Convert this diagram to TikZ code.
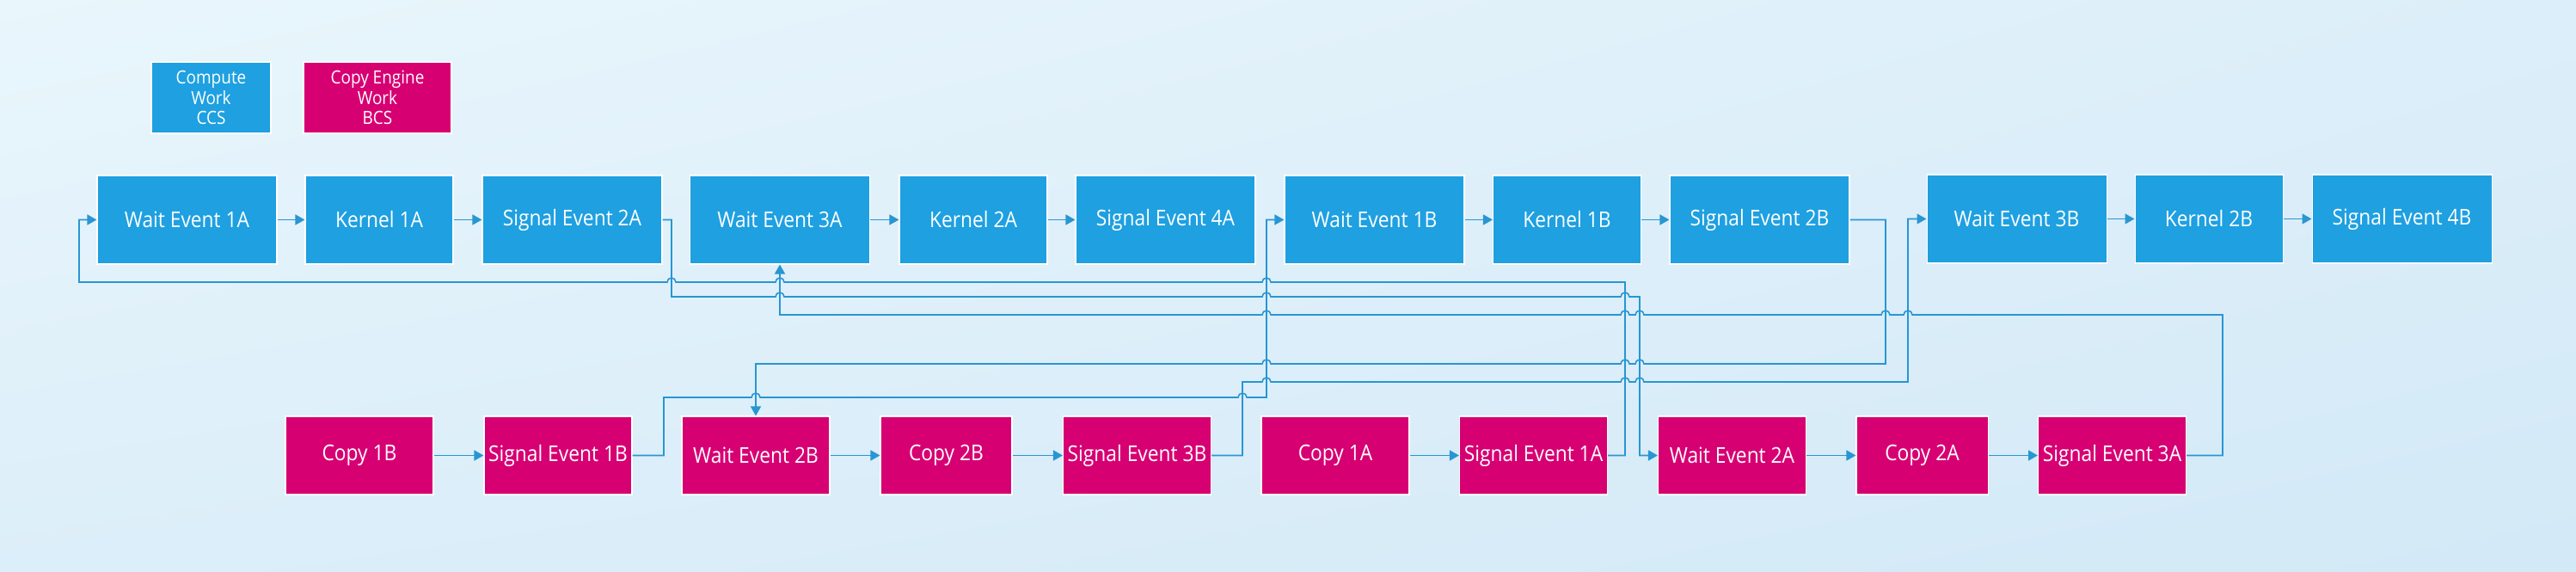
\documentclass[tikz,border=0pt]{standalone}
\usepackage{fontspec}
\setmainfont{Open Sans}[FakeStretch=0.9]
\usetikzlibrary{arrows.meta, shadings}
\definecolor{ccsblue}{RGB}{30,160,225}
\definecolor{bcspink}{RGB}{215,0,115}
\definecolor{wire}{RGB}{40,150,210}
\definecolor{bgA}{RGB}{233,246,252}
\definecolor{bgB}{RGB}{220,238,249}
\definecolor{bgC}{RGB}{211,233,247}
\tikzset{
  box/.style={draw=white, line width=0.3pt, text=white, inner sep=0pt,
    font=\fontsize{7.2}{8}\selectfont, align=center},
  ccs/.style={box, fill=ccsblue, minimum width=2.09cm, minimum height=1.03cm},
  bcs/.style={box, fill=bcspink, minimum width=1.72cm, minimum height=0.91cm},
  narrow/.style={minimum width=1.72cm},
  slim/.style={minimum width=1.53cm},
  legend/.style={font=\fontsize{6}{6.7}\selectfont, minimum height=0.83cm},
  link/.style={draw=wire, line width=0.45pt, -{Triangle[length=1.1mm,width=1.2mm]}},
  wireonly/.style={draw=wire, line width=0.45pt}
}
\begin{document}
\begin{tikzpicture}
  % background
  \shade[upper left=bgA, upper right=bgB, lower left=bgB, lower right=bgC]
    (0,0) rectangle (29.96,-6.65);
  % legend
  \node[ccs, legend, minimum width=1.39cm] (CCS) at (2.455,-1.135) {Compute\\Work\\CCS};
  \node[bcs, legend, minimum width=1.72cm] (BCS) at (4.39,-1.135) {Copy Engine\\Work\\BCS};
  % compute row
  \node[ccs] (W1A) at (2.175,-2.555) {Wait Event 1A};
  \node[ccs, narrow] (K1A) at (4.41,-2.555) {Kernel 1A};
  \node[ccs] (S2A) at (6.655,-2.555) {Signal Event 2A};
  \node[ccs] (W3A) at (9.07,-2.555) {Wait Event 3A};
  \node[ccs, narrow] (K2A) at (11.32,-2.555) {Kernel 2A};
  \node[ccs] (S4A) at (13.555,-2.555) {Signal Event 4A};
  \node[ccs] (W1B) at (15.985,-2.555) {Wait Event 1B};
  \node[ccs, narrow] (K1B) at (18.225,-2.555) {Kernel 1B};
  \node[ccs] (S2B) at (20.465,-2.555) {Signal Event 2B};
  \node[ccs] (W3B) at (23.455,-2.545) {Wait Event 3B};
  \node[ccs, narrow] (K2B) at (25.69,-2.545) {Kernel 2B};
  \node[ccs] (S4B) at (27.935,-2.545) {Signal Event 4B};
  % copy row
  \node[bcs] (C1B) at (4.18,-5.295) {Copy 1B};
  \node[bcs] (S1B) at (6.49,-5.295) {Signal Event 1B};
  \node[bcs] (W2B) at (8.79,-5.295) {Wait Event 2B};
  \node[bcs, slim] (C2B) at (11.005,-5.295) {Copy 2B};
  \node[bcs] (S3B) at (13.225,-5.295) {Signal Event 3B};
  \node[bcs] (C1A) at (15.53,-5.295) {Copy 1A};
  \node[bcs] (S1A) at (17.835,-5.295) {Signal Event 1A};
  \node[bcs] (W2A) at (20.145,-5.295) {Wait Event 2A};
  \node[bcs, slim] (C2A) at (22.355,-5.295) {Copy 2A};
  \node[bcs] (S3A) at (24.565,-5.295) {Signal Event 3A};
  % in-order links
  \draw[link] (W1A) -- (K1A);
  \draw[link] (K1A) -- (S2A);
  \draw[link] (W3A) -- (K2A);
  \draw[link] (K2A) -- (S4A);
  \draw[link] (W1B) -- (K1B);
  \draw[link] (K1B) -- (S2B);
  \draw[link] (W3B) -- (K2B);
  \draw[link] (K2B) -- (S4B);
  \draw[link] (C1B) -- (S1B);
  \draw[link] (W2B) -- (C2B);
  \draw[link] (C2B) -- (S3B);
  \draw[link] (C1A) -- (S1A);
  \draw[link] (W2A) -- (C2A);
  \draw[link] (C2A) -- (S3A);
  % event links (with line hops)
  \draw[link] (S1A.east) -- (18.90,-5.295) -- (18.90,-3.28)
    -- (14.78,-3.28) arc (0:180:0.05) -- (9.12,-3.28) arc (0:180:0.05)
    -- (7.86,-3.28) arc (0:180:0.05) -- (0.92,-3.28) |- (W1A.west);
  \draw[link] (S2A.east) -- (7.81,-2.555) -- (7.81,-3.45)
    -- (9.02,-3.45) arc (180:0:0.05) -- (14.68,-3.45) arc (180:0:0.05)
    -- (18.85,-3.45) arc (180:0:0.05) -- (19.07,-3.45) |- (W2A.west);
  \draw[link] (S3A.east) -- (25.85,-5.295) -- (25.85,-3.66)
    -- (22.24,-3.66) arc (0:180:0.05) -- (21.98,-3.66) arc (0:180:0.05)
    -- (19.12,-3.66) arc (0:180:0.05) -- (18.95,-3.66) arc (0:180:0.05)
    -- (14.78,-3.66) arc (0:180:0.05) -- (9.07,-3.66) -- (W3A.south);
  \draw[link] (S2B.east) -- (21.93,-2.555) -- (21.93,-4.23)
    -- (19.12,-4.23) arc (0:180:0.05) -- (18.95,-4.23) arc (0:180:0.05)
    -- (14.78,-4.23) arc (0:180:0.05) -- (8.79,-4.23) -- (W2B.north);
  \draw[link] (S3B.east) -- (14.45,-5.295) -- (14.45,-4.44)
    -- (14.68,-4.44) arc (180:0:0.05) -- (18.85,-4.44) arc (180:0:0.05)
    -- (19.02,-4.44) arc (180:0:0.05) -- (22.19,-4.44) |- (W3B.west);
  \draw[link] (S1B.east) -- (7.72,-5.295) -- (7.72,-4.62)
    -- (8.74,-4.62) arc (180:0:0.05) -- (14.40,-4.62) arc (180:0:0.05)
    -- (14.73,-4.62) |- (W1B.west);
\end{tikzpicture}
\end{document}
